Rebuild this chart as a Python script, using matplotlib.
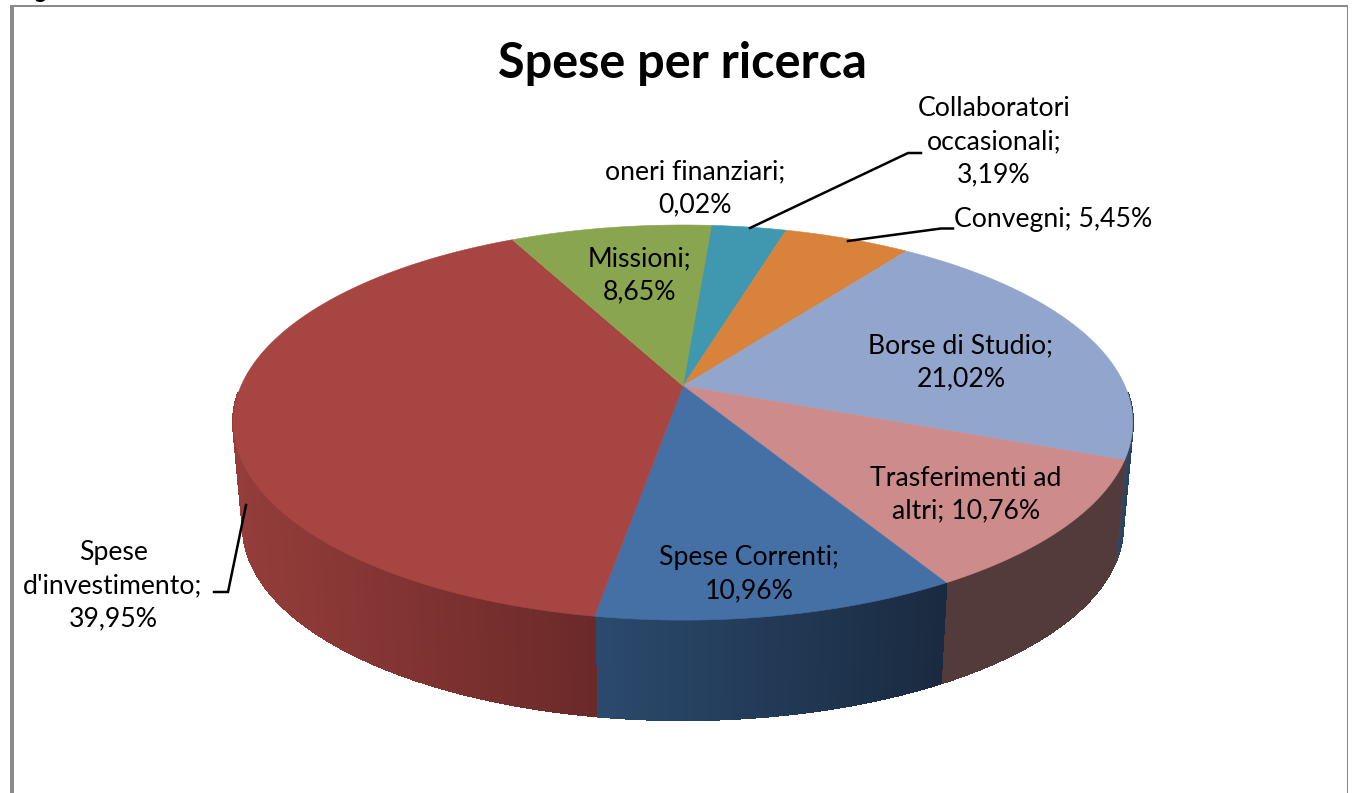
import numpy as np
import matplotlib
matplotlib.use("Agg")
import matplotlib.pyplot as plt
from matplotlib.patches import Polygon
from matplotlib.collections import PolyCollection
from matplotlib.colors import to_rgb

# --- data ---
categories = ["oneri finanziari", "Collaboratori occasionali", "Convegni", "Borse di Studio",
              "Trasferimenti ad altri", "Spese Correnti", "Spese d'investimento", "Missioni"]
shares = [0.02, 3.19, 5.45, 21.02, 10.76, 10.96, 39.95, 8.65]
label_texts = ["oneri finanziari;\n0,02%", "Collaboratori\noccasionali;\n3,19%", "Convegni; 5,45%",
               "Borse di Studio;\n21,02%", "Trasferimenti ad\naltri; 10,76%", "Spese Correnti;\n10,96%",
               "Spese\nd'investimento;\n39,95%", "Missioni;\n8,65%"]
title_text = "Spese per ricerca"

# --- style ---
top_colors = ["#4470a6", "#4097b0", "#d9823b", "#92a6cd", "#cd8c8b", "#4470a6", "#a64542", "#8aa550"]
side_left = ["#2b4a6d", "#2b5f70", "#8a5025", "#3a5070", "#543b3b", "#2b4a6d", "#943d3a", "#55682f"]
side_right = ["#1a2a40", "#2b5f70", "#8a5025", "#2c4058", "#543b3b", "#1a2a40", "#6b2929", "#55682f"]
label_xy = [(695, 188.5), (994, 142), (1053, 220), (961, 362.5), (966, 494.5),
            (749, 574.5), (113, 585.5), (640, 275.5)]
START_DEG = 4.4
K = 0.185
CX, CY, A, B = 683.0, 386.0, 442.0, 190.8
SCALE2, CY2 = 0.978, 491.0
FONT = ["Lato", "Open Sans", "DejaVu Sans"]

fig = plt.figure(figsize=(13.54, 7.93), dpi=100)
ax = fig.add_axes([0, 0, 1, 1])
ax.set_xlim(0, 1354)
ax.set_ylim(793, 0)
ax.axis("off")


def rim(theta_deg, cy=CY, scale=1.0):
    t = np.radians(theta_deg)
    u, v = np.sin(t), np.cos(t)
    d = 1 + K * v
    return np.column_stack([CX + scale * A * u / d, cy - scale * B * v / d])


# frame
ax.add_patch(Polygon([(10, 793), (10, 5), (1347.5, 5), (1347.5, 793), (1346.5, 793), (1346.5, 7),
                      (14, 7), (14, 793)], closed=True, fc="#8a8a8a", ec="none"))
ax.text(40, -1.5, "g", family=FONT, fontweight="bold", fontsize=15, ha="center", va="baseline", color="black")

edges = START_DEG + 360 * np.concatenate([[0], np.cumsum(shares)]) / np.sum(shares)

# side wall
for i in range(len(shares)):
    lo, hi = max(edges[i], 92), min(edges[i + 1], 268)
    if hi <= lo:
        continue
    th = np.arange(lo, hi + 0.5, 0.5)
    th[-1] = hi
    a, b = rim(th), rim(th, CY2, SCALE2)
    xmin, xmax = min(a[:, 0].min(), b[:, 0].min()), max(a[:, 0].max(), b[:, 0].max())
    c0, c1 = np.array(to_rgb(side_left[i])), np.array(to_rgb(side_right[i]))
    quads, cols = [], []
    for j in range(len(th) - 1):
        quads.append([a[j], a[j + 1], b[j + 1], b[j]])
        f = ((a[j, 0] + a[j + 1, 0]) / 2 - xmin) / max(xmax - xmin, 1)
        cols.append(c0 + (c1 - c0) * f)
    ax.add_collection(PolyCollection(quads, facecolors=cols, edgecolors=cols, linewidths=1.0,
                                     antialiaseds=False, zorder=2))

# top face
for i in range(len(shares)):
    th = np.linspace(edges[i], edges[i + 1], max(int((edges[i + 1] - edges[i]) * 2), 2))
    pts = np.vstack([[CX, CY], rim(th)])
    ax.add_patch(Polygon(pts, closed=True, fc=top_colors[i], ec=top_colors[i], lw=0.4, zorder=3))

# leader lines
for xs, ys in [((750, 908, 921), (228, 153, 153)),
               ((848, 941, 953), (241, 228.5, 228.5)),
               ((246, 228, 214), (505, 592, 592))]:
    ax.plot(xs, ys, color="black", lw=1.8, zorder=4, solid_joinstyle="miter")

# labels
for txt, (x, y) in zip(label_texts, label_xy):
    ax.text(x, y, txt, family=FONT, fontsize=19.2, ha="center", va="center", linespacing=1.4,
            color="black", zorder=5)
ax.text(682, 63, title_text, family=FONT, fontweight="bold", fontsize=35, ha="center", va="center",
        color="black", zorder=5)

fig.savefig("out.png", dpi=100, facecolor="white")
